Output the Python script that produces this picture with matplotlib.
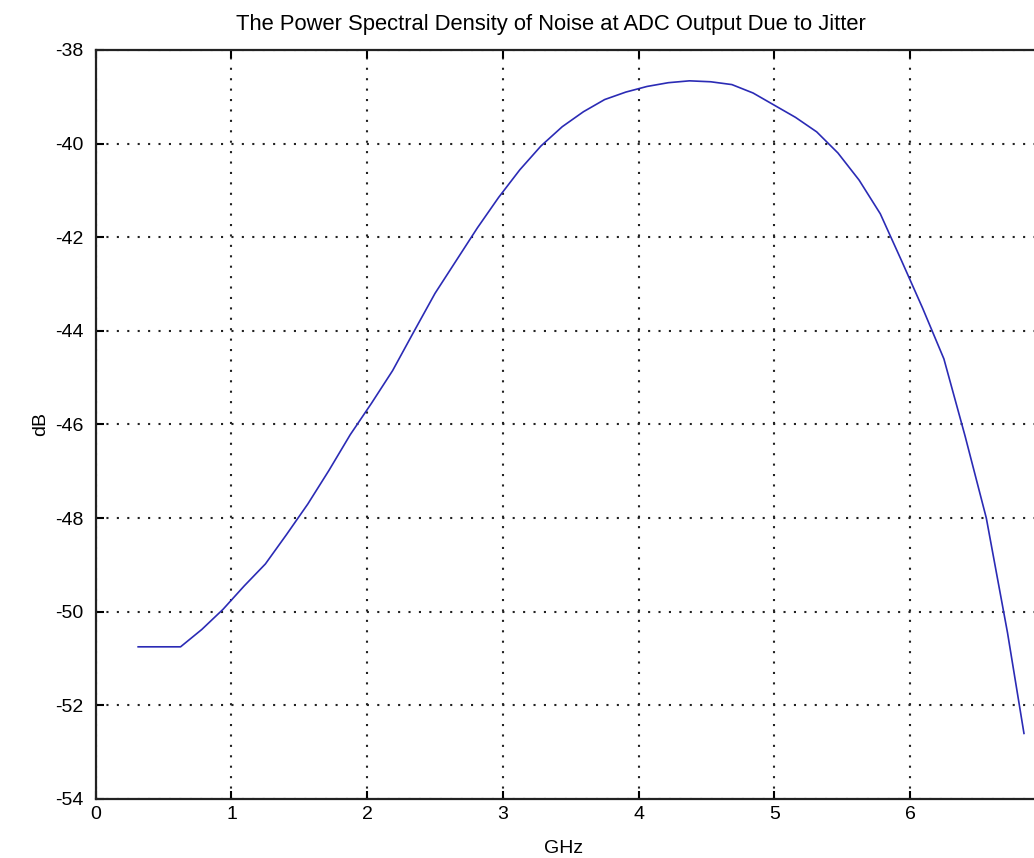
import matplotlib
matplotlib.use('Agg')
import matplotlib.pyplot as plt

freq_ghz = [0.3125, 0.46875, 0.625, 0.78125, 0.9375, 1.09375, 1.25, 1.40625,
            1.5625, 1.71875, 1.875, 2.03125, 2.1875, 2.34375, 2.5, 2.65625,
            2.8125, 2.96875, 3.125, 3.28125, 3.4375, 3.59375, 3.75, 3.90625,
            4.0625, 4.21875, 4.375, 4.53125, 4.6875, 4.84375, 5.0, 5.15625,
            5.3125, 5.46875, 5.625, 5.78125, 5.9375, 6.09375, 6.25, 6.40625,
            6.5625, 6.71875, 6.84]
psd_db = [-50.75, -50.75, -50.75, -50.38, -49.95, -49.45, -48.98, -48.35,
          -47.70, -46.98, -46.22, -45.55, -44.85, -44.02, -43.2, -42.5,
          -41.8, -41.15, -40.56, -40.05, -39.64, -39.32, -39.06, -38.90,
          -38.78, -38.70, -38.66, -38.68, -38.74, -38.92, -39.18, -39.44,
          -39.75, -40.2, -40.78, -41.5, -42.5, -43.52, -44.6, -46.25,
          -48.0, -50.45, -52.6]

x_ticks = [0, 1, 2, 3, 4, 5, 6]
y_ticks = [-38, -40, -42, -44, -46, -48, -50, -52, -54]

plt.rcParams['font.family'] = ['Liberation Sans', 'DejaVu Sans']
plt.rcParams['axes.unicode_minus'] = False

fig = plt.figure(figsize=(10.34, 8.58), dpi=100)
# axes runs past the right edge of the figure, like the cropped original
ax = fig.add_axes([0.0926, 0.0688, 0.9187, 0.873])

ax.plot(freq_ghz, psd_db, color='#2b2bb5', linewidth=1.2)

ax.set_xlim(0, 7)
ax.set_ylim(-54, -38)
ax.set_xticks(x_ticks)
ax.set_yticks(y_ticks)

ax.grid(True, color='#222222', linestyle=(0, (1, 4)), linewidth=1.5)
ax.tick_params(direction='in', length=6, width=1.5, top=True, right=True,
               labelsize=14, colors='black')
ax.tick_params(axis='y', pad=9)
ax.tick_params(axis='x', pad=5)
for s in ax.spines.values():
    s.set_linewidth(1.6)
    s.set_color('#222222')

ax.set_title('The Power Spectral Density of Noise at ADC Output Due to Jitter',
             fontsize=15.8, pad=14, x=0.479)
ax.set_xlabel('GHz', fontsize=14, labelpad=14)
ax.xaxis.set_label_coords(0.492, -0.055)
ax.set_ylabel('dB', fontsize=14, labelpad=4)

fig.savefig('out.png', dpi=100)
